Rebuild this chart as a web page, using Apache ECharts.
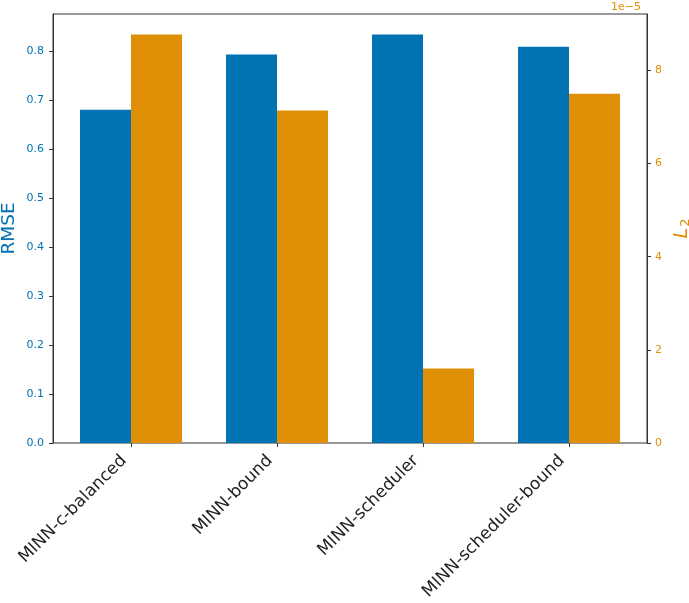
<!DOCTYPE html>
<html>
<head>
<meta charset="utf-8">
<script src="https://cdn.jsdelivr.net/npm/echarts@6/dist/echarts.min.js"></script>
<style>
html,body{margin:0;padding:0;background:#fff;}
#chart{width:689px;height:603px;}
</style>
</head>
<body>
<div id="chart"></div>
<script>
const categories = ['MINN-c-balanced', 'MINN-bound', 'MINN-scheduler', 'MINN-scheduler-bound'];
const rmseValues = [0.680, 0.793, 0.834, 0.809];
const l2Values = [8.77e-5, 7.14e-5, 1.60e-5, 7.50e-5];
const rmseTicks = [0, 0.1, 0.2, 0.3, 0.4, 0.5, 0.6, 0.7, 0.8];
const l2Ticks = [0, 2e-5, 4e-5, 6e-5, 8e-5];
const rmseMax = 0.8757;
const l2Max = 9.21e-5;

const BLUE = '#0173b2';
const ORANGE = '#de8f05';
const FONT = 'DejaVu Sans';

const chart = echarts.init(document.getElementById('chart'), null, {renderer: 'canvas'});
chart.setOption({
  animation: false,
  textStyle: {fontFamily: FONT},
  title: {
    text: '1e\u22125',
    right: 43, top: -3,
    textStyle: {fontFamily: FONT, fontSize: 11, fontWeight: 'normal', color: ORANGE}
  },
  grid: [
    {left: 53, right: 42, top: 14, bottom: 160, show: true, borderColor: '#333', borderWidth: 1,
      backgroundColor: 'transparent', containLabel: false, outerBoundsMode: 'none'},
    {left: 58, right: 47, top: 14, bottom: 160, containLabel: false, outerBoundsMode: 'none'}
  ],
  xAxis: [
    {gridIndex: 0, type: 'value', show: false, min: 0, max: 1},
    {
      gridIndex: 1, type: 'category', data: categories, boundaryGap: true,
      axisLine: {show: false},
      axisTick: {show: true, alignWithLabel: true, length: 4, lineStyle: {color: '#333'}},
      axisLabel: {rotate: 45, margin: 8, padding: [0, 10, 0, 0], fontSize: 17, color: '#222',
        fontFamily: FONT, interval: 0}
    }
  ],
  yAxis: [
    {gridIndex: 0, type: 'value', show: false, min: 0, max: 1},
    {
      gridIndex: 1, type: 'value', position: 'left', offset: 5,
      min: 0, max: rmseMax,
      name: 'RMSE', nameLocation: 'middle', nameGap: 34, nameRotate: 90, nameMoveOverlap: false,
      nameTextStyle: {fontSize: 18.5, color: BLUE, fontFamily: FONT},
      splitLine: {show: false},
      axisLine: {show: true, lineStyle: {color: '#333'}},
      axisTick: {show: true, length: 4, customValues: rmseTicks, lineStyle: {color: '#333'}},
      axisLabel: {fontSize: 11, color: BLUE, margin: 9, fontFamily: FONT, customValues: rmseTicks,
        formatter: v => v.toFixed(1)}
    },
    {
      gridIndex: 1, type: 'value', position: 'right', offset: 5,
      min: 0, max: l2Max,
      name: '{l|L}{s|2}', nameLocation: 'middle', nameGap: 20, nameRotate: 90,
      nameTextStyle: {
        color: ORANGE,
        rich: {
          l: {fontSize: 19, fontStyle: 'italic', color: ORANGE, fontFamily: FONT},
          s: {fontSize: 13, color: ORANGE, fontFamily: FONT, padding: [7, 0, 0, 1]}
        }
      },
      splitLine: {show: false},
      axisLine: {show: true, lineStyle: {color: '#333'}},
      axisTick: {show: true, length: 4, customValues: l2Ticks, lineStyle: {color: '#333'}},
      axisLabel: {fontSize: 11, color: ORANGE, margin: 8, fontFamily: FONT, customValues: l2Ticks,
        formatter: v => String(Math.round(v * 1e5))}
    }
  ],
  series: [
    {type: 'bar', name: 'RMSE', xAxisIndex: 1, yAxisIndex: 1, data: rmseValues,
      barWidth: 51, barGap: '0%', itemStyle: {color: BLUE}},
    {type: 'bar', name: 'L2', xAxisIndex: 1, yAxisIndex: 2, data: l2Values,
      barWidth: 51, barGap: '0%', itemStyle: {color: ORANGE}}
  ]
});
</script>
</body>
</html>
